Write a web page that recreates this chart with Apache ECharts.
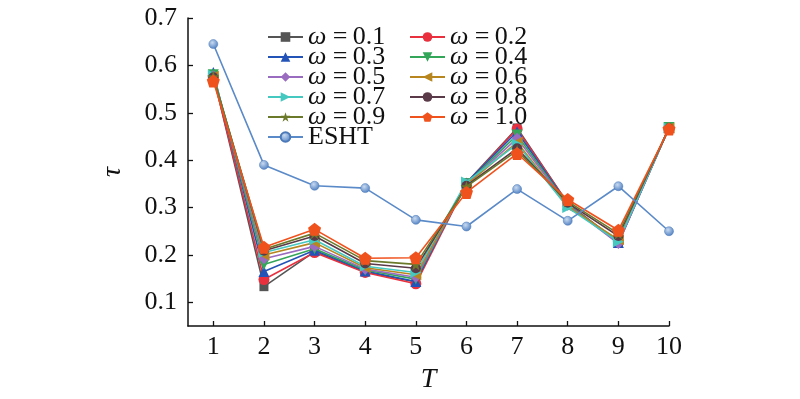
<!DOCTYPE html>
<html>
<head>
<meta charset="utf-8">
<script src="https://cdn.jsdelivr.net/npm/echarts@6/dist/echarts.min.js"></script>
<style>html,body{margin:0;padding:0;background:#fff}#c{width:800px;height:399px}</style>
</head>
<body>
<div id="c"></div>
<script>
var T = [1, 2, 3, 4, 5, 6, 7, 8, 9, 10];
var yTicks = [0.1, 0.2, 0.3, 0.4, 0.5, 0.6, 0.7];
var w01 = [0.578, 0.133, 0.207, 0.164, 0.143, 0.352, 0.468, 0.309, 0.225, 0.468];
var w02 = [0.577, 0.148, 0.205, 0.163, 0.139, 0.350, 0.466, 0.308, 0.228, 0.468];
var w03 = [0.585, 0.165, 0.210, 0.166, 0.144, 0.352, 0.460, 0.307, 0.226, 0.469];
var w04 = [0.580, 0.180, 0.213, 0.168, 0.149, 0.350, 0.453, 0.306, 0.228, 0.469];
var w05 = [0.578, 0.192, 0.218, 0.170, 0.153, 0.349, 0.446, 0.305, 0.224, 0.468];
var w06 = [0.577, 0.200, 0.226, 0.173, 0.158, 0.348, 0.438, 0.302, 0.232, 0.468];
var w07 = [0.579, 0.205, 0.232, 0.176, 0.163, 0.354, 0.434, 0.300, 0.228, 0.468];
var w08 = [0.575, 0.209, 0.240, 0.182, 0.172, 0.346, 0.425, 0.310, 0.240, 0.467];
var w09 = [0.576, 0.212, 0.246, 0.188, 0.180, 0.344, 0.420, 0.313, 0.245, 0.467];
var w10 = [0.567, 0.216, 0.254, 0.193, 0.194, 0.332, 0.414, 0.317, 0.252, 0.466];
var esht = [0.645, 0.390, 0.346, 0.341, 0.274, 0.260, 0.339, 0.272, 0.345, 0.250];

var names = ['ω = 0.1','ω = 0.2','ω = 0.3','ω = 0.4','ω = 0.5','ω = 0.6','ω = 0.7','ω = 0.8','ω = 0.9','ω = 1.0','ESHT'];
var values = [w01,w02,w03,w04,w05,w06,w07,w08,w09,w10,esht];
var colors = ['#555555','#e8303f','#2453b8','#33a65a','#9a6cc0','#b8861f','#45c8c0','#5a3a48','#6b7a2a','#f0521e','#5b8ac8'];
var starPath = 'path://M0,-1 L0.2245,-0.309 L0.951,-0.309 L0.363,0.118 L0.588,0.809 L0,0.382 L-0.588,0.809 L-0.363,0.118 L-0.951,-0.309 L-0.2245,-0.309 Z';
var pentPath = 'path://M0,-1 L0.951,-0.309 L0.588,0.809 L-0.588,0.809 L-0.951,-0.309 Z';
var symbols = ['rect','circle','triangle','triangle','diamond','triangle','triangle','circle','path','path','circle'];
var rotates = [0,0,0,180,0,90,-90,0,0,0,0];
var sizes = [9,11,11,11,11,11,11,10,12,13,9];
symbols[8] = starPath; symbols[9] = pentPath;

function pair(arr){ return T.map(function(t,i){ return [t, arr[i]]; }); }

var series = names.map(function(n, k){
  var item = { color: colors[k] };
  if (n === 'ESHT') {
    item = { color: { type:'radial', x:0.4, y:0.35, r:0.7, colorStops:[{offset:0,color:'#c8daf0'},{offset:1,color:'#4a7cc0'}] }, borderColor:'#4a78b8', borderWidth:0.5 };
  }
  return {
    name: n, type: 'line', data: pair(values[k]),
    symbol: symbols[k], symbolSize: sizes[k], symbolRotate: rotates[k],
    showAllSymbol: true,
    lineStyle: { color: colors[k], width: 1.6 },
    itemStyle: item,
    z: 2 + k
  };
});

var serif = "'Liberation Serif', 'Times New Roman', Times, serif";
var legendText = {
  fontFamily: serif, fontSize: 26, color: '#111',
  rich: {
    i: { fontFamily: serif, fontStyle: 'italic', fontSize: 26 },
    t: { fontFamily: serif, fontSize: 26 }
  }
};
function fmt(n){
  if (n.charAt(0) === 'ω') {
    var rest = n.slice(1).replace(' = ', ' =\u2009');
    return '{i|ω}{t|' + rest + '}';
  }
  return '{t|' + n + '}';
}

var chart = echarts.init(document.getElementById('c'), null, {renderer:'canvas'});
chart.setOption({
  animation: false,
  backgroundColor: '#fff',
  grid: { left: 188, right: 131, top: 18, bottom: 72, containLabel: false },
  legend: [
    { data: [names[0],names[2],names[4],names[6],names[8],names[10]], orient:'vertical', left: 262, top: 19,
      itemWidth: 35, itemHeight: 12, itemGap: -6, textStyle: legendText, formatter: fmt, z: 20 },
    { data: [names[1],names[3],names[5],names[7],names[9]], orient:'vertical', left: 404, top: 19,
      itemWidth: 35, itemHeight: 12, itemGap: -6, textStyle: legendText, formatter: fmt, z: 20 }
  ],
  xAxis: {
    type: 'value', min: 0.5, max: 10,
    name: 'T', nameLocation: 'middle', nameGap: 40,
    nameTextStyle: { fontFamily: serif, fontStyle: 'italic', fontSize: 28, color: '#111' },
    axisLine: { lineStyle: { color: '#111', width: 1.5 } },
    axisTick: { inside: true, length: 5, customValues: T, lineStyle: { color: '#111', width: 1.3 } },
    axisLabel: { customValues: T, margin: 8, fontFamily: serif, fontSize: 26, color: '#111' },
    splitLine: { show: false }
  },
  yAxis: {
    type: 'value', min: 0.05, max: 0.7,
    name: 'τ', nameLocation: 'middle', nameGap: 61, nameRotate: 90,
    nameTextStyle: { fontFamily: serif, fontStyle: 'italic', fontSize: 28, color: '#111' },
    axisLine: { show: true, lineStyle: { color: '#111', width: 1.5 } },
    axisTick: { show: true, inside: true, length: 5, customValues: yTicks, lineStyle: { color: '#111', width: 1.3 } },
    axisLabel: { customValues: yTicks, margin: 11, fontFamily: serif, fontSize: 26, color: '#111',
      formatter: function(v){ return v.toFixed(1); } },
    splitLine: { show: false }
  },
  series: series
});
</script>
</body>
</html>
